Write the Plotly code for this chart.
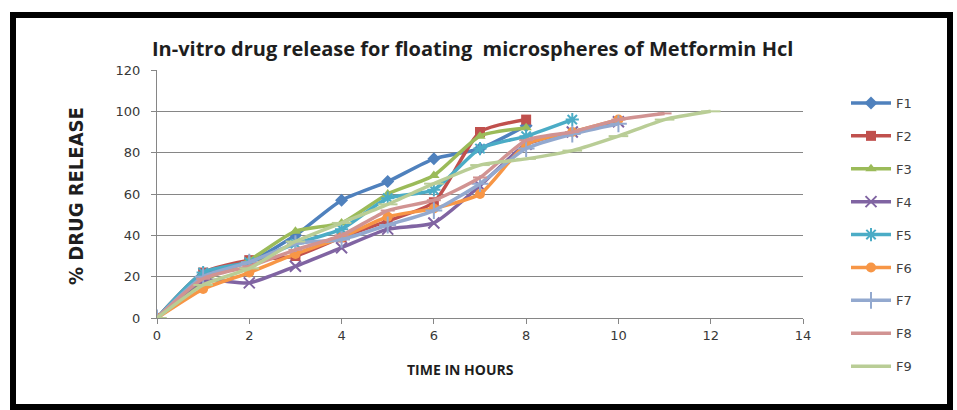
import plotly.graph_objects as go

# Release profile (% drug released vs. time in hours) for each formulation
hours = list(range(0, 13))
F1 = [0, 21, 27, 40, 57, 66, 77, 82, 93]
F2 = [0, 22, 28, 30, 39, 47, 56, 90, 96]
F3 = [0, 18, 28, 42, 46, 60, 69, 88, 92]
F4 = [0, 18, 17, 25, 34, 43, 46, 64, 84, 90, 95]
F5 = [0, 22, 27, 36, 43, 58, 62, 82, 88, 96]
F6 = [0, 14, 22, 31, 39, 49, 53, 60, 84, 90, 96]
F7 = [0, 20, 27, 36, 38, 45, 52, 65, 82, 89, 94]
F8 = [0, 19, 25, 33, 40, 52, 57, 68, 86, 90, 96, 99]
F9 = [0, 16, 24, 37, 46, 55, 65, 74, 77, 81, 88, 96, 100]

names = ["F1", "F2", "F3", "F4", "F5", "F6", "F7", "F8", "F9"]
series = [F1, F2, F3, F4, F5, F6, F7, F8, F9]
colors = ["#4F81BD", "#C0504D", "#9BBB59", "#8064A2", "#4BACC6",
          "#F79646", "#93A9CF", "#D19392", "#B9CD96"]
symbols = ["diamond", "square", "triangle-up", "x-thin-open", "asterisk-open",
           "circle", "cross-thin-open", "line-ew-open", "line-ew-open"]
sizes = [10, 10, 10, 11, 11, 10, 12, 10, 14]

W, H = 957, 410
L, R, T, B = 157, 154, 70, 92
pw, ph = W - L - R, H - T - B


def px(x):
    return (x - L) / pw


def py(y):
    return (H - B - y) / ph


fig = go.Figure()
for i, (nm, vals) in enumerate(zip(names, series)):
    sym = symbols[i]
    open_sym = sym.endswith("open")
    fig.add_trace(go.Scatter(
        x=hours[:len(vals)], y=vals, name=nm, mode="lines+markers",
        legendgroup=nm,
        line=dict(color=colors[i], width=3.5, shape="spline", smoothing=0.6),
        marker=dict(symbol=sym, size=sizes[i], color=colors[i],
                    line=dict(color=colors[i], width=2 if open_sym else 0)),
    ))

fig.update_layout(
    width=W, height=H,
    margin=dict(l=L, r=R, t=T, b=B),
    paper_bgcolor="white", plot_bgcolor="white",
    font=dict(family="DejaVu Sans", size=13, color="#404040"),
    showlegend=True,
    legend=dict(x=846 / W, y=1 - 88 / H, xref="container", yref="container",
                xanchor="left", yanchor="top", maxheight=400,
                font=dict(family="DejaVu Sans", size=13, color="#404040"),
                tracegroupgap=13, itemwidth=40, bgcolor="rgba(0,0,0,0)"),
    xaxis=dict(range=[0, 14], dtick=2, showgrid=False, zeroline=False,
               showline=True, linecolor="#868686", linewidth=1,
               ticks="outside", ticklen=5, tickcolor="#868686",
               tickfont=dict(family="DejaVu Sans", size=13, color="#383838")),
    yaxis=dict(range=[0, 120], dtick=20, showgrid=True, gridcolor="#868686",
               gridwidth=1, zeroline=False, showline=True, linecolor="#868686",
               linewidth=1, ticks="outside", ticklen=5, tickcolor="#868686",
               tickfont=dict(family="DejaVu Sans", size=13, color="#383838"),
               ticklabelstandoff=8),
)

# Chart title and axis titles
fig.add_annotation(text="<b>In-vitro drug release for floating  microspheres of Metformin Hcl</b>",
                   xref="paper", yref="paper", x=px(472), y=py(33),
                   showarrow=False, font=dict(family="Open Sans", size=20, color="#1e1e1e"))
fig.add_annotation(text="<b>TIME IN HOURS</b>", xref="paper", yref="paper",
                   x=px(460), y=py(381), showarrow=False,
                   font=dict(family="Open Sans", size=14, color="#1e1e1e"))
fig.add_annotation(text="<b>% DRUG RELEASE</b>", xref="paper", yref="paper",
                   x=px(62), y=py(196), showarrow=False, textangle=-90,
                   font=dict(family="Liberation Sans Narrow, DejaVu Sans Condensed",
                             size=20, color="#1e1e1e"))

# Thick black frame around the whole chart
fig.add_shape(type="rect", xref="paper", yref="paper",
              x0=px(13), x1=px(950), y0=py(407), y1=py(15),
              line=dict(color="black", width=6), layer="above")

fig.write_html("out.html")
